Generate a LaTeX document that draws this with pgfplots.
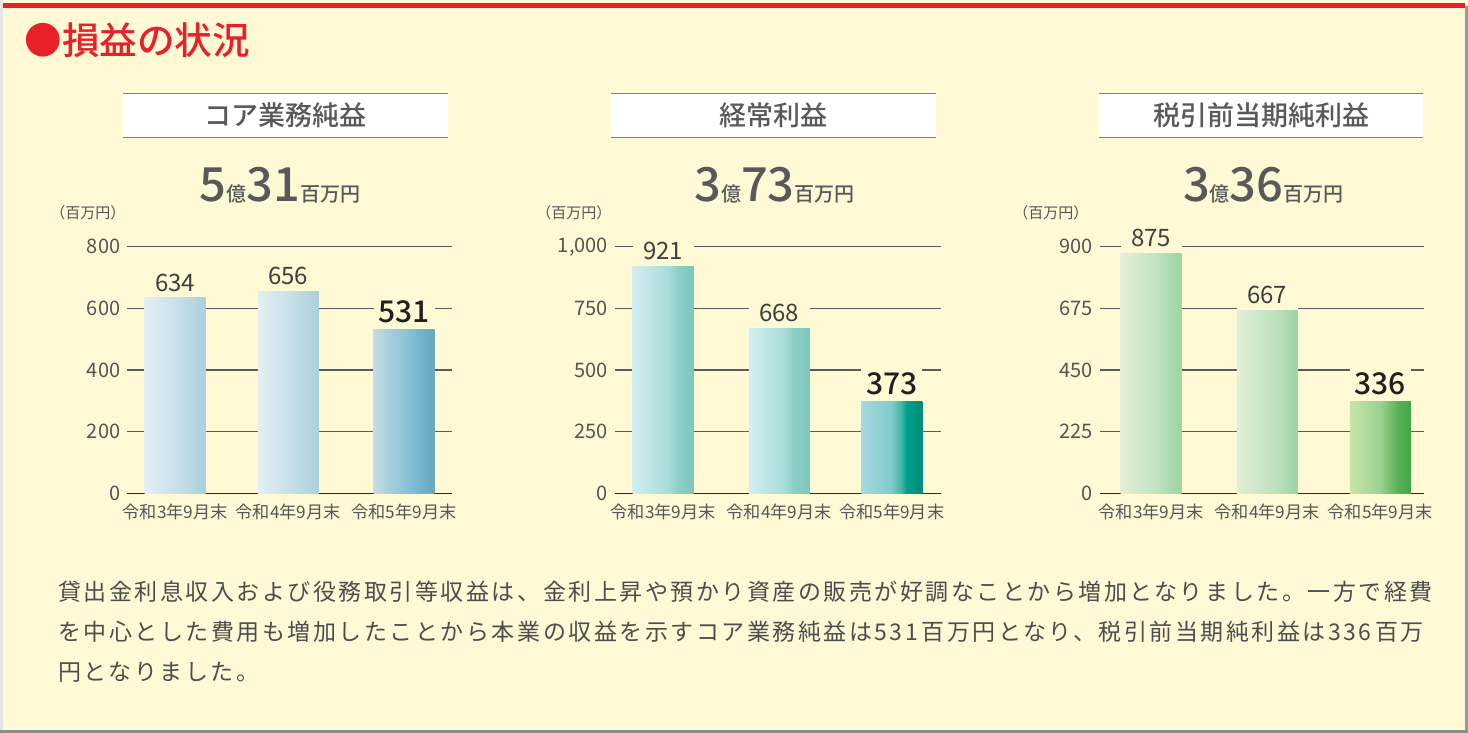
\documentclass[border=0pt]{standalone}
\usepackage{pgfplots}
\pgfplotsset{compat=1.18}
\usepackage{fontspec}
\setmainfont{Noto Sans CJK JP}
\newfontfamily\bodyfont[LetterSpace=10.9]{Noto Sans CJK JP}
\newfontfamily\medfont{Noto Sans CJK JP Medium}

\definecolor{bg}{HTML}{FFF9D5}
\definecolor{titlered}{HTML}{E8202A}
\definecolor{headgray}{HTML}{58595B}
\definecolor{tickgray}{HTML}{555555}
\definecolor{gridgray}{HTML}{5A5A5A}
\definecolor{axisblack}{HTML}{2A2A2A}
\definecolor{valgray}{HTML}{3F3F3F}
\definecolor{valblack}{HTML}{231F20}
\definecolor{bodygray}{HTML}{4D4D4D}
\definecolor{headline}{HTML}{7F7F7F}

% panel 1 (blue)
\definecolor{aL}{HTML}{E4EFF4}\definecolor{aM}{HTML}{C3DEE7}\definecolor{aR}{HTML}{ADD2DE}
\definecolor{bL}{HTML}{C4DCE6}\definecolor{bM}{HTML}{85BED4}\definecolor{bN}{HTML}{6FB3CC}\definecolor{bR}{HTML}{6AA6B8}
% panel 2 (teal)
\definecolor{cL}{HTML}{D5EEF2}\definecolor{cM}{HTML}{A5DDD8}\definecolor{cN}{HTML}{8AD0C6}\definecolor{cR}{HTML}{80C5BB}
\definecolor{dL}{HTML}{A6D9E0}\definecolor{dM}{HTML}{7FCACB}\definecolor{dN}{HTML}{3DB4A4}\definecolor{dO}{HTML}{00A08C}\definecolor{dR}{HTML}{008A77}
% panel 3 (green)
\definecolor{eL}{HTML}{E4EFD8}\definecolor{eM}{HTML}{C0E2C0}\definecolor{eR}{HTML}{A0D5A7}
\definecolor{fL}{HTML}{C9E4A9}\definecolor{fM}{HTML}{9CD18F}\definecolor{fN}{HTML}{55B056}\definecolor{fR}{HTML}{3DAA46}

\pgfdeclarehorizontalshading{shA}{100bp}{color(0bp)=(aL); color(25bp)=(aL); color(55bp)=(aM); color(72bp)=(aR); color(75bp)=(aR); color(100bp)=(aR)}
\pgfdeclarehorizontalshading{shB}{100bp}{color(0bp)=(bL); color(25bp)=(bL); color(55bp)=(bM); color(65bp)=(bN); color(75bp)=(bR); color(100bp)=(bR)}
\pgfdeclarehorizontalshading{shC}{100bp}{color(0bp)=(cL); color(25bp)=(cL); color(55bp)=(cM); color(62bp)=(cN); color(75bp)=(cR); color(100bp)=(cR)}
\pgfdeclarehorizontalshading{shD}{100bp}{color(0bp)=(dL); color(25bp)=(dL); color(50bp)=(dM); color(58bp)=(dN); color(62bp)=(dO); color(75bp)=(dR); color(100bp)=(dR)}
\pgfdeclarehorizontalshading{shE}{100bp}{color(0bp)=(eL); color(25bp)=(eL); color(55bp)=(eM); color(72bp)=(eR); color(75bp)=(eR); color(100bp)=(eR)}
\pgfdeclarehorizontalshading{shF}{100bp}{color(0bp)=(fL); color(25bp)=(fL); color(50bp)=(fM); color(65bp)=(fN); color(75bp)=(fR); color(100bp)=(fR)}

\pgfplotsset{
  panel/.style={
    scale only axis, height=123.3pt, anchor=south west,
    ymin=0, clip=false,
    axis x line=bottom, axis y line=left,
    y axis line style={draw=none},
    x axis line style={draw=axisblack, line width=0.65pt, -},
    major tick length=0pt, tick style={draw=none},
    ymajorgrids, grid style={draw=gridgray, line width=0.55pt},
    scaled y ticks=false,
    yticklabel style={font=\fontsize{10}{12}\selectfont, text=tickgray, /pgf/number format/assume math mode=true},
    xticklabel style={font=\fontsize{8.6}{10}\selectfont, text=tickgray, yshift=-2pt},
  },
  mybar/.style={ybar, bar width=61, bar shift=0pt, draw=none, shade, shading=#1},
}
\tikzset{
  vlab/.style={anchor=south, fill=bg, inner xsep=0pt, inner ysep=3pt, minimum width=30.5pt, text=valgray, font=\fontsize{12}{12}\selectfont},
  vlabb/.style={vlab, text=valblack, font=\medfont\fontsize{15}{15}\selectfont},
}
\newcommand{\bigN}[1]{{\medfont\fontsize{23.5}{23}\selectfont #1}}
\newcommand{\smN}[1]{{\medfont\fontsize{10}{10}\selectfont #1}}

\begin{document}
\begin{tikzpicture}[x=0.5pt,y=-0.5pt]
\useasboundingbox (0,0) rectangle (1468,733);
\fill[white] (0,0) rectangle (1468,733);
\fill[bg] (3,0) rectangle (1465,730);
\fill[black!10] (0,0) rectangle (3,733);
\fill[black!40] (1465,6) rectangle (1468,733);
\fill[black!45] (0,730) rectangle (1468,733);
\fill[titlered] (3,3.3) rectangle (1465,8.3);

% title
\node[anchor=west, inner sep=0pt, text=titlered, font=\medfont\fontsize{18.8}{20}\selectfont] at (24,40) {●損益の状況};

% headers
\foreach \L/\R/\T in {122.7/448.3/コア業務純益, 611/936/経常利益, 1099/1423.3/税引前当期純利益}{
  \fill[white] (\L,93.3) rectangle (\R,137.3);
  \draw[headline, line width=0.75pt] (\L,93.3) -- (\R,93.3) (\L,137.3) -- (\R,137.3);
  \node[text=headgray, font=\medfont\fontsize{13.5}{14}\selectfont] at ({(\L+\R)/2},115.3) {\T};
}

% big numbers
\node[anchor=base, text=headgray, inner sep=0pt] at (280,201.7) {\bigN{5}\smN{億}\bigN{31}\smN{百万円}};
\node[anchor=base, text=headgray, inner sep=0pt] at (774.5,201.7) {\bigN{3}\smN{億}\bigN{73}\smN{百万円}};
\node[anchor=base, text=headgray, inner sep=0pt] at (1263.3,201.7) {\bigN{3}\smN{億}\bigN{36}\smN{百万円}};

% unit labels
\foreach \X in {50,536,1013}{
  \node[anchor=west, inner sep=0pt, text=tickgray, font=\fontsize{7.5}{8}\selectfont] at (\X,212.5) {（百万円）};
}

% panel 1
\begin{axis}[panel, at={(63.65pt,-246.65pt)}, width=162.5pt,
  xmin=127.3, xmax=452.3, ymax=800, ytick={0,200,400,600,800},
  xtick={175.2,288.3,404.0}, xticklabels={令和3年9月末,令和4年9月末,令和5年9月末}]
\addplot[mybar=shA] coordinates {(175.2,634)};
\addplot[mybar=shA] coordinates {(288.3,656)};
\addplot[mybar=shB] coordinates {(404.0,531)};
\node[vlab] at (axis cs:175.2,634) {634};
\node[vlab] at (axis cs:288.3,656) {656};
\node[vlabb] at (axis cs:404.0,531) {531};
\end{axis}

% panel 2
\begin{axis}[panel, at={(307.5pt,-246.65pt)}, width=162.75pt,
  xmin=615, xmax=940.5, ymax=1000, ytick={0,250,500,750,1000},
  xtick={663.2,779.3,891.8}, xticklabels={令和3年9月末,令和4年9月末,令和5年9月末}]
\addplot[mybar=shC] coordinates {(663.2,921)};
\addplot[mybar=shC] coordinates {(779.3,668)};
\addplot[mybar=shD] coordinates {(891.8,373)};
\node[vlab] at (axis cs:663.2,921) {921};
\node[vlab] at (axis cs:779.3,668) {668};
\node[vlabb] at (axis cs:891.8,373) {373};
\end{axis}

% panel 3
\begin{axis}[panel, at={(550pt,-246.65pt)}, width=162.15pt,
  xmin=1100, xmax=1424.3, ymax=900, ytick={0,225,450,675,900},
  xtick={1151.2,1267.3,1380.3}, xticklabels={令和3年9月末,令和4年9月末,令和5年9月末}]
\addplot[mybar=shE] coordinates {(1151.2,875)};
\addplot[mybar=shE] coordinates {(1267.3,667)};
\addplot[mybar=shF] coordinates {(1380.3,336)};
\node[vlab] at (axis cs:1151.2,875) {875};
\node[vlab] at (axis cs:1267.3,667) {667};
\node[vlabb] at (axis cs:1380.3,336) {336};
\end{axis}

% body text
\begin{scope}[every node/.style={anchor=west, inner sep=0pt, text=bodygray, font=\bodyfont\fontsize{11.5}{14}\selectfont}]
\node at (58,591.7) {貸出金利息収入および役務取引等収益は、金利上昇や預かり資産の販売が好調なことから増加となりました。一方で経費};
\node at (58,631.7) {を中心とした費用も増加したことから本業の収益を示すコア業務純益は531\,百万円となり、税引前当期純利益は336\,百万};
\node at (58,672.4) {円となりました。};
\end{scope}
\end{tikzpicture}
\end{document}
